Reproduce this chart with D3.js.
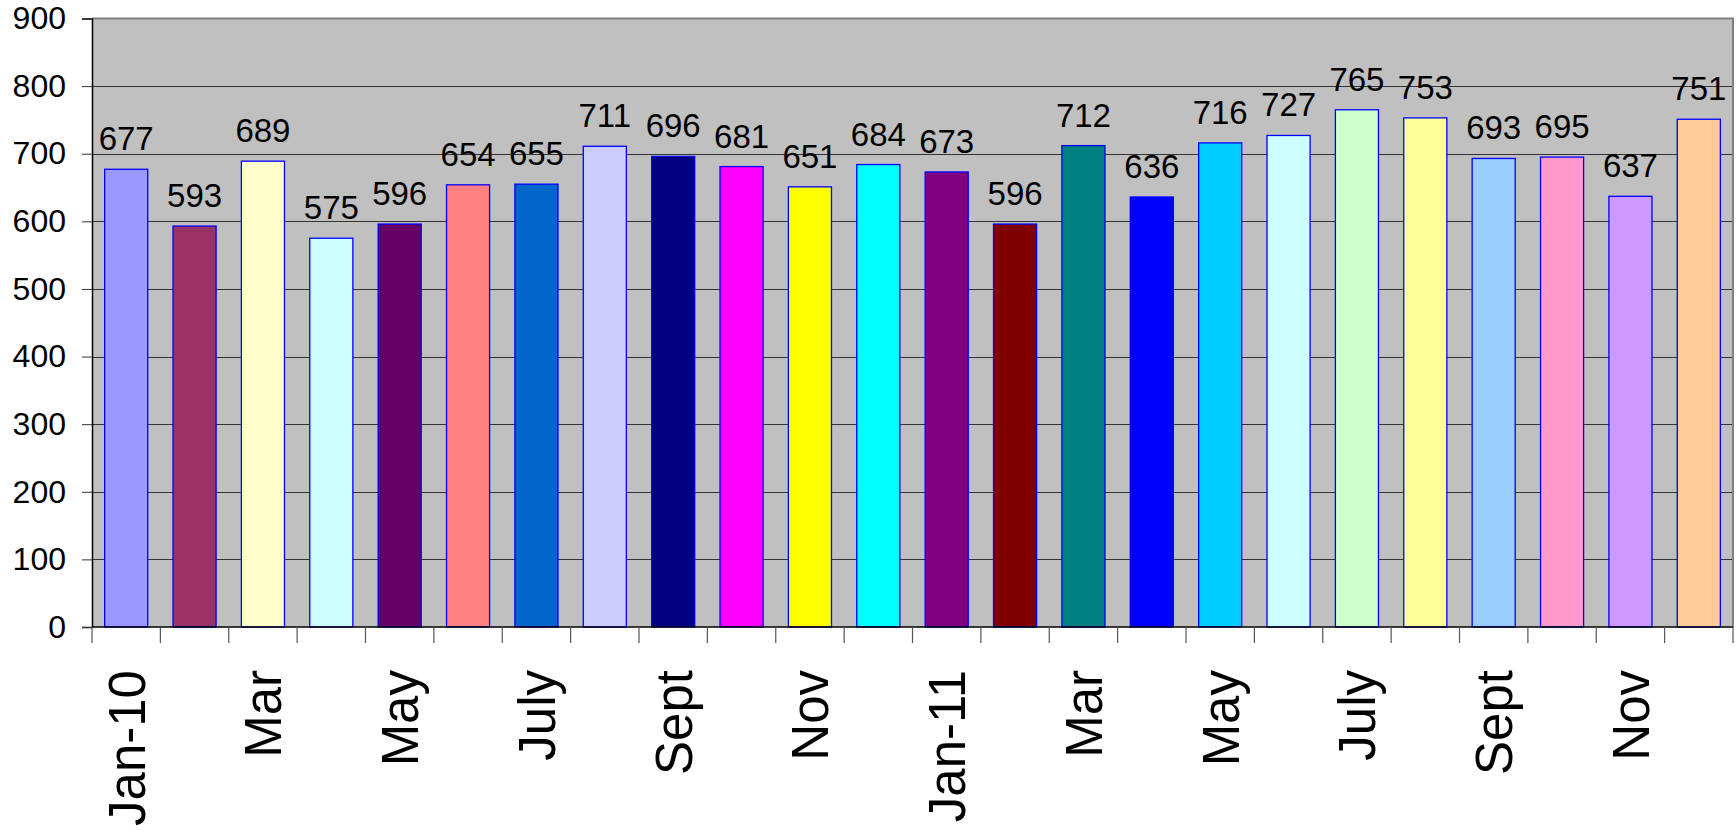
<!DOCTYPE html>
<html>
  <head>
    <style>
      body { margin: 0; background: #fff; }
      svg { display: block; font-family: "Liberation Sans", Arial, sans-serif; }
      .grid line { stroke: #333; stroke-width: 1; }
      .y-label { font-size: 32px; fill: #000; }
      .x-label { font-size: 51px; fill: #000; }
      .value-label { font-size: 33px; fill: #000; }
    </style>
  </head>
  <body>
    <svg></svg>
    <script src="https://d3js.org/d3.v7.min.js"></script>
    <script>
      // Monthly values, Jan 2010 to Dec 2011
      const months = [
        "Jan-10", "Feb-10", "Mar-10", "Apr-10", "May-10", "Jun-10",
        "Jul-10", "Aug-10", "Sep-10", "Oct-10", "Nov-10", "Dec-10",
        "Jan-11", "Feb-11", "Mar-11", "Apr-11", "May-11", "Jun-11",
        "Jul-11", "Aug-11", "Sep-11", "Oct-11", "Nov-11", "Dec-11"
      ];
      // only every second month gets a label on the axis
      const tickLabels = [
        "Jan-10", "", "Mar", "", "May", "", "July", "", "Sept", "", "Nov", "",
        "Jan-11", "", "Mar", "", "May", "", "July", "", "Sept", "", "Nov", ""
      ];
      const values = [
        677, 593, 689, 575, 596, 654, 655, 711, 696, 681, 651, 684,
        673, 596, 712, 636, 716, 727, 765, 753, 693, 695, 637, 751
      ];
      const barColors = [
        "#9999FF", "#993366", "#FFFFCC", "#CCFFFF", "#660066", "#FF8080",
        "#0066CC", "#CCCCFF", "#000080", "#FF00FF", "#FFFF00", "#00FFFF",
        "#800080", "#800000", "#008080", "#0000FF", "#00CCFF", "#CCFFFF",
        "#CCFFCC", "#FFFF99", "#99CCFF", "#FF99CC", "#CC99FF", "#FFCC99"
      ];
      const yTicks = [0, 100, 200, 300, 400, 500, 600, 700, 800, 900];

      const W = 1736, H = 831;
      const plot = { left: 92, right: 1733, top: 18.5, bottom: 627 };

      const svg = d3.select("svg").attr("width", W).attr("height", H);

      const x = d3.scaleBand()
        .domain(months)
        .range([plot.left, plot.right])
        .paddingInner(0.37)
        .paddingOuter(0.185);

      const y = d3.scaleLinear()
        .domain([0, 900])
        .range([plot.bottom, plot.top]);

      // plot background
      svg.append("rect")
        .attr("x", plot.left)
        .attr("y", plot.top)
        .attr("width", plot.right - plot.left)
        .attr("height", plot.bottom - plot.top)
        .attr("fill", "#C0C0C0");

      // gridlines
      svg.append("g")
        .attr("class", "grid")
        .selectAll("line")
        .data(yTicks.filter(d => d > 0 && d < 900))
        .enter()
        .append("line")
        .attr("x1", plot.left)
        .attr("x2", plot.right)
        .attr("y1", d => Math.round(y(d)) + 0.5)
        .attr("y2", d => Math.round(y(d)) + 0.5);

      // top and right border of the plot area
      svg.append("path")
        .attr("d", `M${plot.left},${plot.top}H${plot.right}V${plot.bottom}`)
        .attr("fill", "none")
        .attr("stroke", "#808080")
        .attr("stroke-width", 2);

      // bars
      svg.selectAll(".bar")
        .data(values)
        .enter()
        .append("rect")
        .attr("class", "bar")
        .attr("x", (d, i) => x(months[i]))
        .attr("width", x.bandwidth())
        .attr("y", d => y(d))
        .attr("height", d => y(0) - y(d))
        .attr("fill", (d, i) => barColors[i])
        .attr("stroke", "#0000FF")
        .attr("stroke-width", 1.3);

      // value labels above the bars
      svg.selectAll(".value-label")
        .data(values)
        .enter()
        .append("text")
        .attr("class", "value-label")
        .attr("text-anchor", "middle")
        .attr("x", (d, i) => x(months[i]) + x.bandwidth() / 2)
        .attr("y", d => y(d) - 19)
        .text(d => d);

      // y axis
      const yAxis = svg.append("g")
        .attr("transform", `translate(${plot.left},0)`)
        .call(d3.axisLeft(y).tickValues(yTicks).tickSize(10).tickPadding(16));
      yAxis.select(".domain").attr("stroke", "#000").attr("stroke-width", 1.5);
      yAxis.selectAll(".tick line").attr("stroke", "#333");
      yAxis.selectAll(".tick text")
        .attr("class", "y-label")
        .attr("font-size", null)
        .attr("font-family", null);

      // x axis: ticks sit on the boundaries between months
      const xAxis = svg.append("g").attr("transform", `translate(0,${plot.bottom})`);
      xAxis.append("line")
        .attr("x1", plot.left)
        .attr("x2", plot.right)
        .attr("stroke", "#000")
        .attr("stroke-width", 1.5);
      const step = x.step();
      xAxis.selectAll(".xtick")
        .data(d3.range(months.length + 1))
        .enter()
        .append("line")
        .attr("class", "xtick")
        .attr("x1", i => plot.left + i * step)
        .attr("x2", i => plot.left + i * step)
        .attr("y1", 0)
        .attr("y2", 16)
        .attr("stroke", "#555")
        .attr("stroke-width", 1.2);

      xAxis.selectAll(".x-label")
        .data(months)
        .enter()
        .append("text")
        .attr("class", "x-label")
        .attr("text-anchor", "end")
        .attr("transform", d => `translate(${x(d) + x.bandwidth() / 2},43) rotate(-90)`)
        .attr("dy", "0.36em")
        .text((d, i) => tickLabels[i]);
    </script>
  </body>
</html>
